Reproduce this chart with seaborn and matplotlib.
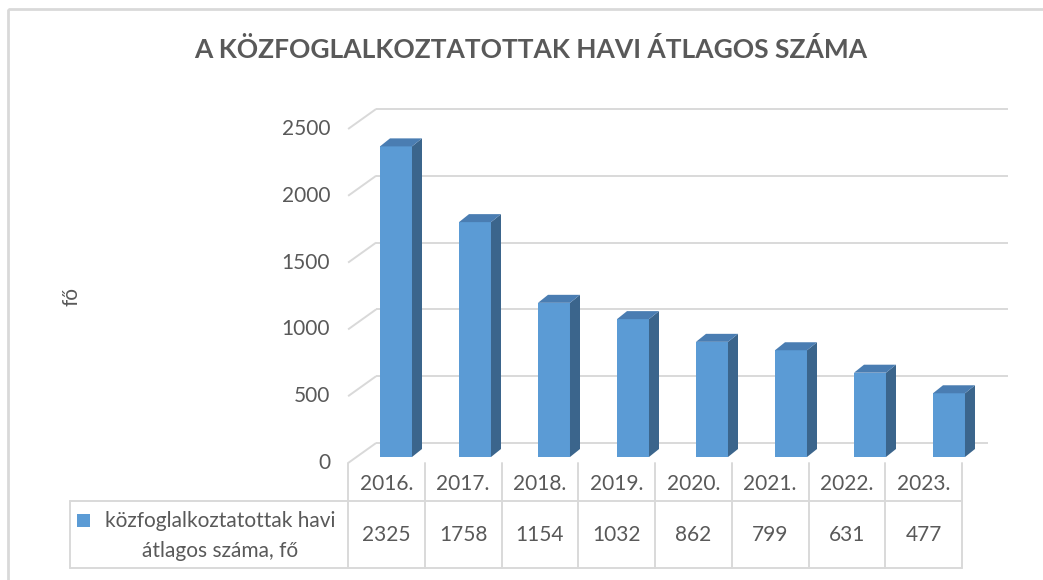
import numpy as np
import pandas as pd
import matplotlib
matplotlib.use("Agg")
import matplotlib.pyplot as plt
import seaborn as sns
from matplotlib.patches import Polygon, Rectangle

sns.set_theme(style="white")
plt.rcParams['font.family'] = ['Lato', 'DejaVu Sans']

# data
years = ['2016.', '2017.', '2018.', '2019.', '2020.', '2021.', '2022.', '2023.']
values = [2325, 1758, 1154, 1032, 862, 799, 631, 477]
y_ticks = [0, 500, 1000, 1500, 2000, 2500]
title = 'A KÖZFOGLALKOZTATOTTAK HAVI ÁTLAGOS SZÁMA'
y_label = 'fő'
series_lines = ['közfoglalkoztatottak havi', 'átlagos száma, fő']

FRONT = '#5B9BD5'
SIDE = '#3B658C'
TOP = '#4A7DB2'
GRID = '#D9D9D9'
TXT = '#595959'

W, H = 1043, 580
fig = plt.figure(figsize=(W / 100, H / 100), dpi=100)

# overlay axes in pixel coords (frame, title, table)
bg = fig.add_axes([0, 0, 1, 1], zorder=0)
bg.set_xlim(0, W)
bg.set_ylim(H, 0)
bg.axis('off')

# bar plane axes
px_x = 79.0     # px per category
px_y = 0.1336   # px per unit
left_px, base_px = 356.5, 457
ax = fig.add_axes([left_px / W, (H - base_px) / H, 8 * px_x / W, 2500 * px_y / H], zorder=1)
ax.patch.set_alpha(0)

df = pd.DataFrame({'year': years, 'value': values})
sns.barplot(data=df, x='year', y='value', color=FRONT, saturation=1,
            width=0.405, linewidth=0, ax=ax)
ax.set_xlim(-0.5, 7.5)
ax.set_ylim(0, 2500)
ax.axis('off')

# 3d offsets in data units
fdx, fdy = -8.4 / px_x, -6 / px_y     # front plane
bdx, bdy = 19.6 / px_x, 14 / px_y     # back wall
sdx, sdy = 10 / px_x, 8 / px_y        # bar depth

# gridlines on back wall + diagonal on side wall
for v in y_ticks:
    x_end = 7.5 + bdx if v > 0 else 7.5 + bdx - 20 / px_x
    ax.plot([-0.5 + fdx, -0.5 + bdx], [v + fdy, v + bdy], color=GRID, lw=1.4,
            zorder=0.5, clip_on=False, solid_capstyle='butt')
    ax.plot([-0.5 + bdx, x_end], [v + bdy, v + bdy], color=GRID, lw=1.4,
            zorder=0.5, clip_on=False, solid_capstyle='butt')
    ax.text(-0.5 + fdx - 18 / px_x, v + fdy, str(v), ha='right', va='center',
            fontsize=15, color=TXT)

# side and top faces of bars
for p in ax.patches:
    x0, w, h = p.get_x(), p.get_width(), p.get_height()
    p.set_zorder(2)
    side = Polygon([(x0 + w, 0), (x0 + w + sdx, sdy), (x0 + w + sdx, h + sdy), (x0 + w, h)],
                   closed=True, fc=SIDE, ec='none', zorder=2, clip_on=False)
    top = Polygon([(x0, h), (x0 + sdx, h + sdy), (x0 + w + sdx, h + sdy), (x0 + w, h)],
                  closed=True, fc=TOP, ec='none', zorder=2, clip_on=False)
    ax.add_patch(side)
    ax.add_patch(top)

# outer frame
bg.add_patch(Rectangle((8, 9), 1100, 700, fill=False, ec=GRID, lw=2))

# title and axis label
bg.text(531, 50, title, ha='center', va='center', fontsize=19,
        fontweight='bold', color=TXT)
bg.text(72, 297, y_label, rotation=90, ha='center', va='center',
        fontsize=15, color=TXT)

# data table
edges = np.linspace(348, 962, len(years) + 1)
for e in edges:
    bg.plot([e, e], [463, 568], color=GRID, lw=1.4)
bg.plot([70, 962], [501, 501], color=GRID, lw=1.4)
bg.plot([70, 962], [568, 568], color=GRID, lw=1.4)
bg.plot([70, 70], [501, 568], color=GRID, lw=1.4)
for i, (yr, val) in enumerate(zip(years, values)):
    c = (edges[i] + edges[i + 1]) / 2
    bg.text(c, 484, yr, ha='center', va='center', fontsize=15, color=TXT)
    bg.text(c, 535, str(val), ha='center', va='center', fontsize=15, color=TXT)

bg.add_patch(Rectangle((77, 514), 13, 13, fc=FRONT, ec='none'))
bg.text(220, 521, series_lines[0], ha='center', va='center', fontsize=15, color=TXT)
bg.text(220, 551, series_lines[1], ha='center', va='center', fontsize=15, color=TXT)

fig.savefig('out.png', dpi=100)
